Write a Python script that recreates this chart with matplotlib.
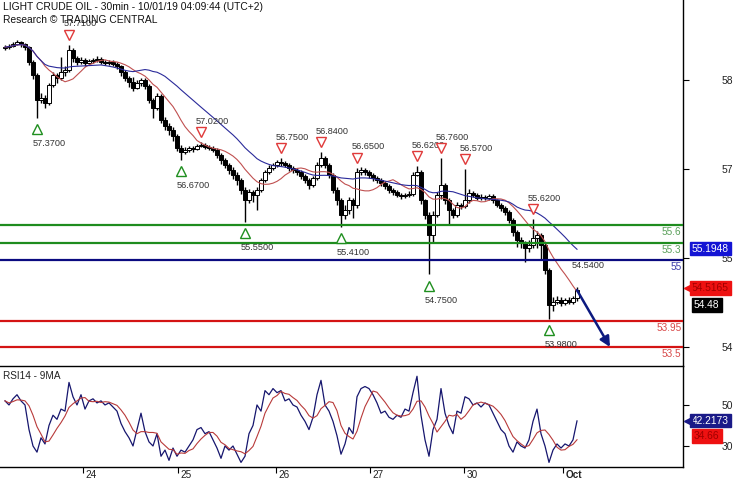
import matplotlib
matplotlib.use("Agg")
import matplotlib.pyplot as plt
import matplotlib.transforms as mtrans
import numpy as np
import pandas as pd

plt.rcParams['font.family'] = ['Liberation Sans', 'DejaVu Sans']

# ---------------- data (hourly resampled candles) ----------------
first_open = 58.66
close = [58.67, 58.69, 58.72, 58.76, 58.72, 58.67, 58.41, 58.19, 57.76, 57.79,
         57.71, 58.02, 58.19, 58.14, 58.24, 58.28, 58.62, 58.48, 58.41, 58.45,
         58.40, 58.43, 58.45, 58.47, 58.41, 58.40, 58.41, 58.38, 58.34, 58.24,
         58.14, 58.07, 57.97, 58.05, 58.10, 58.00, 57.76, 57.62, 57.83, 57.41,
         57.31, 57.24, 57.14, 56.93, 56.86, 56.90, 56.93, 56.91, 56.97, 56.98,
         56.95, 56.93, 56.90, 56.81, 56.72, 56.64, 56.55, 56.47, 56.38, 56.21,
         56.03, 56.17, 56.12, 56.21, 56.38, 56.52, 56.59, 56.64, 56.69, 56.67,
         56.64, 56.59, 56.55, 56.52, 56.45, 56.38, 56.29, 56.41, 56.64, 56.76,
         56.64, 56.47, 56.21, 56.03, 55.78, 55.86, 56.03, 55.95, 56.52, 56.55,
         56.52, 56.47, 56.41, 56.38, 56.33, 56.28, 56.21, 56.17, 56.12, 56.10,
         56.12, 56.14, 56.47, 56.52, 56.03, 55.78, 55.43, 55.78, 56.12, 56.29,
         56.03, 55.86, 55.78, 55.95, 55.93, 56.03, 56.16, 56.12, 56.07, 56.09,
         56.07, 56.10, 56.03, 55.95, 55.90, 55.83, 55.69, 55.48, 55.34, 55.29,
         55.21, 55.26, 55.38, 55.43, 55.26, 54.83, 54.22, 54.28, 54.31, 54.26,
         54.31, 54.28, 54.34, 54.48]
high = [58.70, 58.72, 58.76, 58.79, 58.78, 58.74, 58.69, 58.44, 58.22, 57.88,
        57.84, 58.06, 58.24, 58.22, 58.50, 58.34, 58.71, 58.66, 58.52, 58.50,
        58.48, 58.47, 58.49, 58.51, 58.50, 58.45, 58.45, 58.44, 58.41, 58.37,
        58.27, 58.18, 58.15, 58.10, 58.14, 58.13, 58.03, 57.80, 57.88, 57.86,
        57.46, 57.36, 57.29, 57.18, 56.98, 56.95, 56.97, 56.96, 57.00, 57.03,
        57.01, 56.98, 56.96, 56.93, 56.85, 56.76, 56.68, 56.60, 56.51, 56.42,
        56.25, 56.22, 56.21, 56.26, 56.42, 56.56, 56.64, 56.68, 56.73, 56.76,
        56.71, 56.67, 56.62, 56.59, 56.56, 56.49, 56.42, 56.45, 56.69, 56.86,
        56.80, 56.68, 56.50, 56.25, 56.07, 55.95, 56.08, 56.07, 56.59, 56.60,
        56.58, 56.55, 56.50, 56.44, 56.41, 56.36, 56.31, 56.24, 56.20, 56.15,
        56.16, 56.19, 56.52, 56.62, 56.55, 56.06, 55.82, 55.84, 56.18, 56.76,
        56.33, 56.07, 55.90, 56.00, 55.99, 56.57, 56.22, 56.19, 56.15, 56.13,
        56.12, 56.14, 56.13, 56.06, 55.98, 55.93, 55.86, 55.72, 55.52, 55.40,
        55.33, 55.35, 55.70, 55.50, 55.46, 55.30, 54.87, 54.36, 54.38, 54.36,
        54.35, 54.36, 54.38, 54.54]
low = [58.62, 58.64, 58.67, 58.70, 58.68, 58.62, 58.36, 58.12, 57.45, 57.70,
       57.62, 57.68, 57.98, 58.05, 58.10, 58.18, 58.25, 58.42, 58.36, 58.38,
       58.35, 58.37, 58.40, 58.42, 58.38, 58.36, 58.37, 58.34, 58.30, 58.18,
       58.08, 57.99, 57.92, 57.94, 58.00, 57.94, 57.70, 57.45, 57.58, 57.36,
       57.24, 57.16, 57.06, 56.88, 56.72, 56.82, 56.87, 56.87, 56.89, 56.94,
       56.92, 56.89, 56.86, 56.76, 56.66, 56.58, 56.48, 56.40, 56.30, 56.14,
       55.66, 55.98, 56.00, 55.86, 56.17, 56.34, 56.48, 56.55, 56.60, 56.62,
       56.60, 56.54, 56.50, 56.47, 56.40, 56.33, 56.22, 56.25, 56.38, 56.60,
       56.58, 56.42, 56.15, 55.95, 55.57, 55.70, 55.80, 55.72, 55.90, 56.46,
       56.47, 56.42, 56.37, 56.33, 56.28, 56.22, 56.16, 56.12, 56.08, 56.06,
       56.07, 56.09, 56.11, 56.44, 55.97, 55.70, 54.75, 55.30, 55.74, 56.05,
       55.97, 55.62, 55.72, 55.74, 55.88, 55.89, 55.99, 56.08, 56.03, 56.04,
       56.03, 56.04, 55.99, 55.91, 55.85, 55.78, 55.63, 55.42, 55.22, 55.20,
       54.96, 55.14, 55.20, 55.20, 55.00, 54.75, 53.98, 54.12, 54.24, 54.20,
       54.22, 54.24, 54.24, 54.30]
rsi = [52, 50, 53, 55, 52, 50, 38, 30, 27, 34,
       31, 40, 45, 43, 48, 47, 61, 54, 50, 55,
       48, 52, 53, 51, 52, 50, 51, 49, 47, 41,
       37, 34, 30, 38, 46, 37, 32, 30, 36, 25,
       28, 23, 29, 25, 28, 27, 30, 33, 38, 39,
       36, 37, 33, 29, 24, 30, 28, 30, 26, 22,
       25, 36, 40, 50, 47, 57, 55, 58, 56, 57,
       52, 53, 50, 49, 45, 42, 38, 44, 55, 62,
       50, 47, 42, 35, 26, 31, 39, 36, 54, 58,
       59, 58, 55, 51, 46, 47, 44, 43, 45, 44,
       48, 47, 56, 64, 45, 33, 25, 38, 43, 58,
       46, 40, 36, 47, 46, 54, 53, 50, 51, 49,
       51, 50, 46, 42, 38, 36, 30, 27, 32, 30,
       29, 33, 42, 48, 36, 30, 22, 28, 31, 29,
       31, 30, 33, 42.2173]

levels = [55.6, 55.3, 55.0, 53.95, 53.5]
level_labels = ["55.6", "55.3", "55", "53.95", "53.5"]

ann_index = [8, 16, 44, 49, 60, 69, 79, 84, 88, 103, 106, 109, 115, 132, 136, 143]
ann_text = ["57.3700", "57.7100", "56.6700", "57.0200", "55.5500", "56.7500", "56.8400",
            "55.4100", "56.6500", "56.6200", "54.7500", "56.7600", "56.5700", "55.6200",
            "53.9800", "54.5400"]
ann_kind = ["L", "H", "L", "H", "L", "H", "H", "L", "H", "H", "L", "H", "H", "H", "L", "P"]

date_pos = [19.5, 43.25, 67.75, 91.25, 114.75, 139.5]
date_labels = ["24", "25", "26", "27", "30", "Oct"]

price_tick_pos = [58.103, 56.569, 55.034, 53.5]
price_tick_labels = ["58", "57", "55", "54"]
rsi_ticks = [50, 30]

blue_ma_box = 55.1948
red_ma_box = 54.5165
rsi_ma_box = 34.66
forecast_target = 53.5
forecast_index = 151.25

title1 = "LIGHT CRUDE OIL - 30min - 10/01/19 04:09:44 (UTC+2)"
title2 = "Research \u00a9 TRADING CENTRAL"

# ---------------- figure ----------------
W, H = 735, 480
fig = plt.figure(figsize=(W / 100, H / 100), dpi=100)
fig.patch.set_facecolor("white")

right_px = 683
ax = fig.add_axes([0, (H - 366) / H, right_px / W, 366 / H])
axr = fig.add_axes([0, (H - 467) / H, right_px / W, 101 / H])

idx = np.arange(len(close))
c = np.array(close)
o = np.r_[first_open, c[:-1]]
hi = np.array(high)
lo = np.array(low)

xlim = (-1.25, 169.5)
ax.set_xlim(*xlim)
axr.set_xlim(*xlim)
ax.set_ylim(53.172, 59.483)
axr.set_ylim(19.76, 69.0)

# candles
ax.vlines(idx, lo, hi, color="black", lw=1.0, zorder=3)
up = c >= o
body_lo = np.minimum(o, c)
body_h = np.maximum(np.abs(c - o), 0.02)
ax.bar(idx[up], body_h[up], bottom=body_lo[up], width=0.8, color="white",
       edgecolor="black", lw=0.7, zorder=4)
ax.bar(idx[~up], body_h[~up], bottom=body_lo[~up], width=0.8, color="black",
       edgecolor="black", lw=0.7, zorder=4)

# moving averages
s = pd.Series(c)
ma_fast = s.rolling(10, min_periods=1).mean()
ma_slow = s.rolling(25, min_periods=1).mean()
ax.plot(idx, ma_fast, color="#c05050", lw=0.8, zorder=4.5)
ax.plot(idx, ma_slow, color="#2a2a9a", lw=0.8, zorder=4.5)

# levels
level_colors = ["#1e8c1e", "#1e8c1e", "#0a0a80", "#d41414", "#d41414"]
level_text_colors = ["#5aa05a", "#5aa05a", "#3a3aaa", "#d84848", "#d84848"]
for lv, lab, col, tcol in zip(levels, level_labels, level_colors, level_text_colors):
    ax.axhline(lv, color=col, lw=1.6, zorder=5)
    ax.annotate(lab, xy=(1.0, lv), xycoords=("axes fraction", "data"),
                xytext=(-1, -5), textcoords="offset points", ha="right", va="center",
                fontsize=7.2, color=tcol, zorder=6)

# high / low annotations
for i, txt, kind in zip(ann_index, ann_text, ann_kind):
    if kind == "H" or kind == "P":
        y = hi[i]
        if kind == "H":
            tr = mtrans.offset_copy(ax.transData, fig=fig, x=0, y=7.2, units="points")
            ax.plot([i], [y], marker="v", ms=6.5, mfc="white", mec="#e03a3a", mew=1.0,
                    transform=tr, zorder=7, clip_on=False)
        ax.annotate(txt, xy=(i, y), xytext=(-4, 15), textcoords="offset points",
                    ha="left", va="center", fontsize=6.6, color="#333333", zorder=7)
    else:
        y = lo[i]
        tr = mtrans.offset_copy(ax.transData, fig=fig, x=0, y=-8, units="points")
        ax.plot([i], [y], marker="^", ms=6.5, mfc="white", mec="#1f8f1f", mew=1.0,
                transform=tr, zorder=7, clip_on=False)
        ax.annotate(txt, xy=(i, y), xytext=(-3, -18.5), textcoords="offset points",
                    ha="left", va="center", fontsize=6.6, color="#333333", zorder=7)

# forecast arrow
ax.annotate("", xy=(forecast_index, forecast_target), xytext=(idx[-1], c[-1]),
            arrowprops=dict(arrowstyle="-|>", color="#0c1a80", lw=1.8, mutation_scale=15,
                            shrinkA=0, shrinkB=0), zorder=8)

# RSI panel
rsi_s = pd.Series(rsi)
rsi_ma = rsi_s.rolling(5, min_periods=1).mean()
axr.plot(idx, rsi_s, color="#16166e", lw=0.9, zorder=3)
axr.plot(idx, rsi_ma, color="#b83a3a", lw=0.8, zorder=3)
axr.text(3 / right_px, 0.90, "RSI14 - 9MA", transform=axr.transAxes, fontsize=7.2,
         ha="left", va="center", color="#222222")

# spines
for a in (ax, axr):
    a.spines["left"].set_visible(False)
    a.spines["right"].set_linewidth(1.0)
ax.spines["top"].set_visible(False)
ax.spines["bottom"].set_visible(False)
axr.spines["top"].set_linewidth(1.0)
axr.spines["bottom"].set_linewidth(1.0)

# y ticks right side
ax.yaxis.tick_right()
ax.set_yticks(price_tick_pos)
ax.set_yticklabels(price_tick_labels)
ax.tick_params(axis="y", direction="out", length=4, width=0.8, pad=28, labelsize=7.4,
               labelcolor="#222222")
for lbl in ax.get_yticklabels():
    lbl.set_ha("center")
ax.set_xticks([])

axr.yaxis.tick_right()
axr.set_yticks(rsi_ticks)
axr.set_yticklabels([str(t) for t in rsi_ticks])
axr.tick_params(axis="y", direction="out", length=4, width=0.8, pad=28, labelsize=7.4,
                labelcolor="#222222")
for lbl in axr.get_yticklabels():
    lbl.set_ha("center")

axr.set_xticks(date_pos)
axr.set_xticklabels(date_labels)
axr.tick_params(axis="x", direction="out", length=4, width=0.8, pad=0, labelsize=7.2,
                labelcolor="#222222")
shift = mtrans.ScaledTranslation(2 / 72, 2.2 / 72, fig.dpi_scale_trans)
for lbl in axr.get_xticklabels():
    lbl.set_ha("left")
    lbl.set_transform(lbl.get_transform() + shift)
    if lbl.get_text() == "Oct":
        lbl.set_fontweight("bold")

# value boxes
bt = mtrans.blended_transform_factory(ax.transAxes, ax.transData)
bx = (692 - 0) / right_px
ax.text(bx, blue_ma_box, f"{blue_ma_box:.4f}", transform=bt, ha="left", va="center",
        fontsize=7.4, color="white", zorder=10, clip_on=False,
        bbox=dict(boxstyle="square,pad=0.15", fc="#1414d4", ec="#1414d4"))
ax.text(bx, red_ma_box, f"{red_ma_box:.4f}", transform=bt, ha="left", va="center",
        fontsize=7.4, color="#a00000", zorder=10, clip_on=False,
        bbox=dict(boxstyle="square,pad=0.15", fc="#ee1111", ec="#ee1111"))
ax.plot([(688) / right_px], [red_ma_box], marker="<", ms=6, color="#ee1111",
        transform=bt, clip_on=False, zorder=10)
ax.annotate(f"{c[-1]:.2f}", xy=(bx + 2 / right_px, c[-1]), xycoords=("axes fraction", "data"),
            xytext=(0, -10.5), textcoords="offset points", ha="left", va="center",
            fontsize=7.4, color="white", zorder=10, annotation_clip=False,
            bbox=dict(boxstyle="square,pad=0.2", fc="black", ec="black"))

btr = mtrans.blended_transform_factory(axr.transAxes, axr.transData)
axr.text(bx, rsi[-1], f"{rsi[-1]:.4f}", transform=btr, ha="left", va="center",
         fontsize=7.4, color="white", zorder=10, clip_on=False,
         bbox=dict(boxstyle="square,pad=0.15", fc="#1a1a88", ec="#1a1a88"))
axr.plot([(688) / right_px], [rsi[-1]], marker="<", ms=6, color="#1a1a88",
         transform=btr, clip_on=False, zorder=10)
axr.text(bx + 2 / right_px, rsi_ma_box, f"{rsi_ma_box:.2f}", transform=btr, ha="left",
         va="center", fontsize=7.4, color="#a00000", zorder=10, clip_on=False,
         bbox=dict(boxstyle="square,pad=0.2", fc="#ee1111", ec="#ee1111"))

# titles
fig.text(3 / W, 1 - 7 / H, title1, ha="left", va="center", fontsize=7.4, color="#111111")
fig.text(3 / W, 1 - 20 / H, title2, ha="left", va="center", fontsize=7.4, color="#111111")

fig.savefig("out.png", dpi=100, facecolor="white")
